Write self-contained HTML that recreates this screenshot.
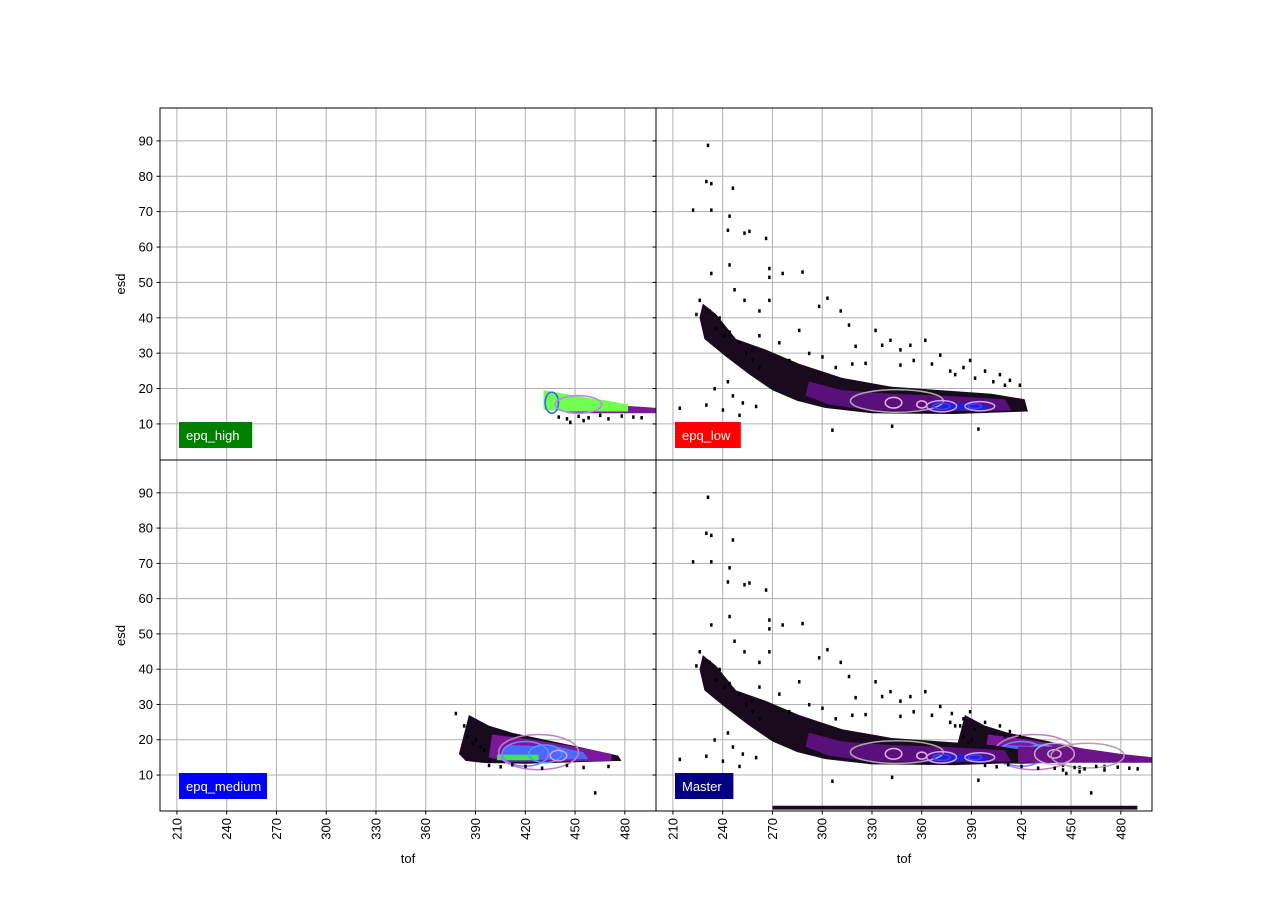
<!DOCTYPE html>
<html><head><meta charset="utf-8"><style>
html,body{margin:0;padding:0;background:#fff}
svg{display:block;font-family:"Liberation Sans","DejaVu Sans",sans-serif}
</style></head><body>
<svg id="fig" width="1280" height="911" viewBox="0 0 1280 911"></svg>
<script>
// ---------- data ----------
const xTicks=[210,240,270,300,330,360,390,420,450,480];
const yTicks=[10,20,30,40,50,60,70,80,90];
const panelNames=["epq_high","epq_low","epq_medium","Master"];
const panelColors=["#008000","#ff0000","#0000ff","#000080"];
const lowDark=[[228,44],[236,41],[248,34],[266,31],[286,27],[312,23],[342,20.5],[372,19.5],[402,18.5],[422,17],[424,13.5],[380,12.8],[330,13],[302,14.5],[285,16.5],[270,19.5],[256,24],[242,29],[229,34],[226,40]];
const lowPurple=[[292,22],[312,19.5],[340,18.5],[372,18],[410,17],[414,13.8],[370,13.6],[330,13.8],[304,15.5],[290,18]];
const lowBlue=[[366,16],[386,15.8],[400,15.2],[400,14],[366,14]];
const highFill=[[431,19.5],[450,18],[470,16.5],[482,15.5],[482,13.5],[445,13.5],[431,14]];
const highPurple=[[470,15.5],[500,14.5],[500,13],[445,13],[445,14]];
const medDark=[[386,27],[398,24],[412,22],[432,20],[452,18],[476,15.5],[478,14],[420,13.2],[395,13.4],[384,14],[380,16]];
const medPurple=[[400,21.5],[425,20],[450,18],[472,16],[472,14],[410,13.6],[398,15]];
const medBlue=[[410,18.5],[440,18],[455,16.5],[458,14.5],[410,14.2],[404,15.5]];
const medGreen=[[403,15.8],[428,15.8],[428,14.2],[403,14.2]];
const masterExtra=[[418,18],[450,18],[480,16],[500,15],[500,13.5],[418,13.5]];
const masterBottom=[[270,1.3],[490,1.3],[490,0.2],[270,0.2]];
const lowContourCx=[345,343,360,372,395,372,392];
const lowContourCy=[16.5,16,15.5,15,15,15,15];
const lowContourRx=[28,5,3,9,9,5,4];
const lowContourRy=[3.2,1.5,1,1.6,1.3,0.9,0.7];
const medContourCx=[428,420,432,440];
const medContourCy=[16.5,16,16,15.5];
const medContourRx=[24,14,10,5];
const medContourRy=[5,3.5,2.5,1.5];
const highContourCx=[436,452];
const highContourCy=[16,15.5];
const highContourRx=[4,14];
const highContourRy=[3,2.5];
const masterContourCx=[440,440,460];
const masterContourCy=[16,16,15.5];
const masterContourRx=[12,4,22];
const masterContourRy=[3,1.2,3.5];
const lowPtsT=[231,230,233,222,233,246,244,243,253,256,266,233,244,247,268,268,276,288,253,268,262,303,298,311,316,332,336,341,347,353,362,371,389,398,407,413,419,214,230,240,250,306,342,394,262,286,320,326,347,377,236,241,258,274,280,292,300,308,318,355,366,380,385,392,403,410,224,226,232,238,244,250,254,258,262,246,252,260,235,243];
const lowPtsE=[88.8,78.6,78,70.5,70.5,76.7,68.8,64.8,64,64.5,62.5,52.6,55,48,54,51.5,52.6,53,45,45,42,45.6,43.3,42,38,36.5,32.3,33.7,31,32.3,33.7,29.5,28,25,24,22.4,21,14.5,15.4,14,12.5,8.3,9.4,8.6,35,36.5,32,27.2,26.7,25,37,35,31,33,28,30,29,26,27,28,27,24,26,23,22,21,41,45,42,40,36,33,30,28,26,18,16,15,20,22];
const medPtsT=[378,383,385,390,393,395,388,420,430,445,455,462,470,398,405,412];
const medPtsE=[27.5,24,21,20,18,17,19,12.5,12,12.8,12.2,5,12.5,12.8,12.4,13];
const highPtsT=[440,445,452,458,465,470,478,485,490,447,455];
const highPtsE=[12,11.5,12.2,11.8,12.5,11.5,12.3,12,11.8,10.5,11];

// ---------- drawing ----------
const NS="http://www.w3.org/2000/svg";
const svg=document.getElementById('fig');
const T0=199.8,T1=498.8,E0=-0.2,E1=99.3;
const panels=[{x:160,y:108,w:496,h:352},{x:656,y:108,w:496,h:352},{x:160,y:460,w:496,h:351},{x:656,y:460,w:496,h:351}];
function el(tag,attrs,parent){const e=document.createElementNS(NS,tag);for(const k in attrs)e.setAttribute(k,attrs[k]);(parent||svg).appendChild(e);return e;}
function sx(p,t){return p.x+(t-T0)/(T1-T0)*p.w;}
function sy(p,v){return p.y+p.h-(v-E0)/(E1-E0)*p.h;}
function poly(p,g,pts,fill,name){const e=el('polygon',{points:pts.map(q=>sx(p,q[0]).toFixed(1)+','+sy(p,q[1]).toFixed(1)).join(' '),fill:fill},g);

}
function ells(p,g,cx,cy,rx,ry,colors,name){for(let i=0;i<cx.length;i++){const e=el('ellipse',{cx:sx(p,cx[i]),cy:sy(p,cy[i]),rx:rx[i]*p.w/(T1-T0),ry:ry[i]*p.h/(E1-E0),fill:'none',stroke:colors[i%colors.length],'stroke-width':1.5},g);

}}
function pts(p,g,T,E,name){for(let i=0;i<T.length;i++){const e=el('rect',{x:sx(p,T[i])-1,y:sy(p,E[i])-1.5,width:2.5,height:3.5,fill:'#000'},g);

}}
const cLow=['#aaaaaa','#e8b0e8','#e8b0e8','#d0a0ff','#d0a0ff','#4040ff','#4040ff'];
const cMed=['#c080c0','#8080ff','#40a0ff','#e0a0e0'];
const cHigh=['#3060ff','#c080ff'];
const cMaster=['#d0a0d0','#e0b0e0','#b0a0b0'];
function drawLow(p,g){poly(p,g,lowDark,'#1a0a1e','density-low-dark');poly(p,g,lowPurple,'#5a107a','density-low-purple');poly(p,g,lowBlue,'#2020e0','density-low-core');ells(p,g,lowContourCx,lowContourCy,lowContourRx,lowContourRy,cLow,'contour-low');pts(p,g,lowPtsT,lowPtsE,'scatter-low');}
function drawMed(p,g){poly(p,g,medDark,'#1a0a1e','density-medium-dark');poly(p,g,medPurple,'#7a1a9a','density-medium-purple');poly(p,g,medBlue,'#4a6aff','density-medium-blue');poly(p,g,medGreen,'#40e060','density-medium-green');ells(p,g,medContourCx,medContourCy,medContourRx,medContourRy,cMed,'contour-medium');pts(p,g,medPtsT,medPtsE,'scatter-medium');}
function drawHigh(p,g){poly(p,g,highPurple,'#7a1a9a','density-high-purple');poly(p,g,highFill,'#70ff50','density-high-fill');ells(p,g,highContourCx,highContourCy,highContourRx,highContourRy,cHigh,'contour-high');pts(p,g,highPtsT,highPtsE,'scatter-high');}

panels.forEach((p,i)=>{
  const g=el('g',{});
  
  
  const cp=el('clipPath',{id:'c'+i},g);el('rect',{x:p.x,y:p.y,width:p.w,height:p.h},cp);
  const gg=el('g',{'clip-path':'url(#c'+i+')'},g);
  xTicks.forEach(t=>{const l=el('line',{x1:sx(p,t),x2:sx(p,t),y1:p.y,y2:p.y+p.h,stroke:'#b0b0b0','stroke-width':1},gg);
    
    });
  yTicks.forEach(t=>{const l=el('line',{x1:p.x,x2:p.x+p.w,y1:sy(p,t),y2:sy(p,t),stroke:'#b0b0b0','stroke-width':1},gg);
    
    });
  if(i===0)drawHigh(p,gg);
  if(i===1)drawLow(p,gg);
  if(i===2)drawMed(p,gg);
  if(i===3){drawMed(p,gg);drawLow(p,gg);poly(p,gg,masterExtra,'#6a1488','density-master-tail');poly(p,gg,masterBottom,'#1a0a1e','density-master-bottom');
    ells(p,gg,masterContourCx,masterContourCy,masterContourRx,masterContourRy,cMaster,'contour-master');pts(p,gg,highPtsT,highPtsE,'scatter-high');}
  el('rect',{x:p.x,y:p.y,width:p.w,height:p.h,fill:'none',stroke:'#000','stroke-width':1},g);
  yTicks.forEach(t=>{const y=sy(p,t);el('line',{x1:p.x,x2:p.x-3.5,y1:y,y2:y,stroke:'#000'},g);
    if(i%2===0){const tx=el('text',{x:p.x-7,y:y+4.5,'text-anchor':'end','font-size':13},g);tx.textContent=t;
      
      }});
  if(i>=2){xTicks.forEach(t=>{const x=sx(p,t);el('line',{x1:x,x2:x,y1:p.y+p.h,y2:p.y+p.h+3.5,stroke:'#000'},g);
      const tx=el('text',{x:0,y:0,'text-anchor':'end','font-size':13,transform:`translate(${x+4.5},${p.y+p.h+7}) rotate(-90)`},g);tx.textContent=t;
      
      });
    const xl=el('text',{x:p.x+p.w/2,y:863,'text-anchor':'middle','font-size':13},g);xl.textContent='tof';
    
    }
  if(i%2===0){const yl=el('text',{x:0,y:0,'text-anchor':'middle','font-size':13,transform:`translate(125,${p.y+p.h/2}) rotate(-90)`},g);yl.textContent='esd';
    
    }
  const lw=panelNames[i].length*7.4+14;
  const lb=el('g',{},g);
  
  
  el('rect',{x:p.x+19,y:p.y+p.h-38,width:lw,height:26,fill:panelColors[i]},lb);
  const lt=el('text',{x:p.x+26,y:p.y+p.h-20,'font-size':13,fill:'#fff'},lb);lt.textContent=panelNames[i];
});
</script>
</body></html>
